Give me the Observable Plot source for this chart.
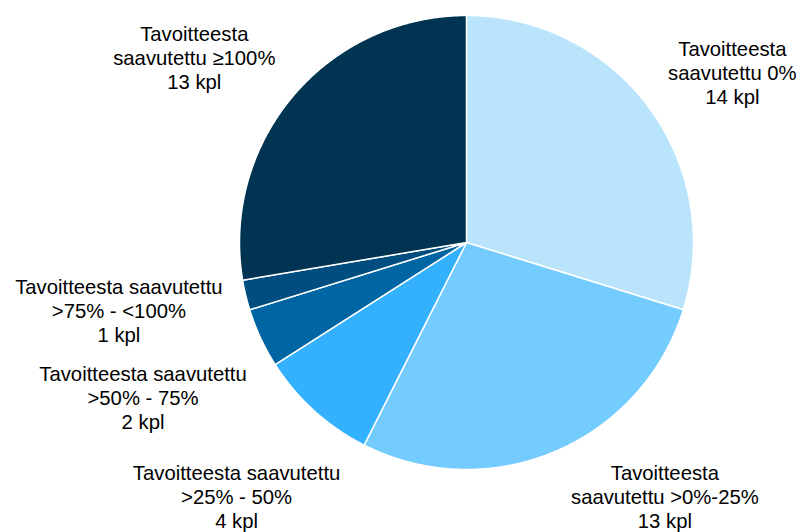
<!DOCTYPE html>
<html>
<head>
<meta charset="utf-8">
<script src="https://cdn.jsdelivr.net/npm/d3@7"></script>
<script src="https://cdn.jsdelivr.net/npm/@observablehq/plot@0.6"></script>
<style>
  html, body { margin: 0; padding: 0; background: #fff; }
  #chart svg { display: block; }
</style>
</head>
<body>
<div id="chart"></div>
<script>
// --- Data ---
const categories = [
  "Tavoitteesta\nsaavutettu 0%",
  "Tavoitteesta\nsaavutettu >0%-25%",
  "Tavoitteesta saavutettu\n>25% - 50%",
  "Tavoitteesta saavutettu\n>50% - 75%",
  "Tavoitteesta saavutettu\n>75% - <100%",
  "Tavoitteesta\nsaavutettu ≥100%"
];
const counts = [14, 13, 4, 2, 1, 13];
const unit = "kpl";
const colors = ["#B9E4FC", "#73CBFE", "#33B1FE", "#0066A3", "#004D80", "#003452"];

// --- Layout (label placement, relative to radius) ---
const labelDist = [1.39, 1.42, 1.51, 1.58, 1.56, 1.45];
const labelShift = [3.8, -15, 0, -0.7, 2.4, -6]; // degrees

const W = 798, H = 532, cx = 466, cy = 242, R = 227;

const arcs = d3.pie().sort(null).value(d => d.count)(
  categories.map((c, i) => ({ key: c, count: counts[i] }))
);

const pts = [];
arcs.forEach(a => {
  const n = Math.max(4, Math.ceil((a.endAngle - a.startAngle) / 0.005));
  pts.push({ key: a.data.key, x: 0, y: 0 });
  for (let k = 0; k <= n; k++) {
    const t = a.startAngle + (a.endAngle - a.startAngle) * k / n;
    pts.push({ key: a.data.key, x: Math.sin(t), y: Math.cos(t) });
  }
  pts.push({ key: a.data.key, x: 0, y: 0 });
});

const labels = arcs.map((a, i) => {
  const m = (a.startAngle + a.endAngle) / 2 + labelShift[i] * Math.PI / 180;
  return {
    text: `${a.data.key}\n${a.data.count} ${unit}`,
    x: Math.sin(m) * labelDist[i],
    y: Math.cos(m) * labelDist[i]
  };
});

const chart = Plot.plot({
  width: W,
  height: H,
  margin: 0,
  x: { domain: [-cx / R, (W - cx) / R], range: [0, W], axis: null },
  y: { domain: [-(H - cy) / R, cy / R], range: [H, 0], axis: null },
  color: { domain: categories, range: colors },
  style: { fontFamily: "'Liberation Sans', Arial, sans-serif", background: "#fff" },
  marks: [
    Plot.line(pts, { x: "x", y: "y", z: "key", fill: "key", stroke: "#fff", strokeWidth: 1.5, strokeLinejoin: "round" }),
    Plot.text(labels, { x: "x", y: "y", text: "text", fontSize: 20.3, lineHeight: 1.18, fill: "#000", textAnchor: "middle" })
  ]
});
document.getElementById("chart").appendChild(chart);
</script>
</body>
</html>
